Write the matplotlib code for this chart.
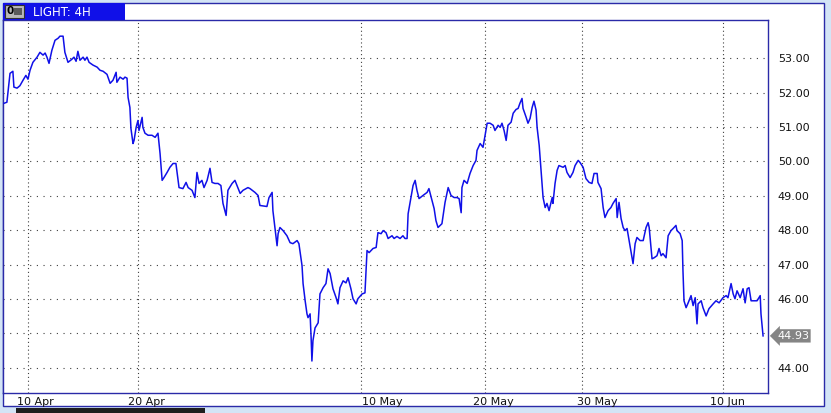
import matplotlib
matplotlib.use("Agg")
import matplotlib.pyplot as plt
import matplotlib.transforms as mtransforms
from matplotlib.patches import Rectangle

# LIGHT 4H closes, x = bar number from the left edge of the chart
seg_early_apr = [(0.4, 51.69), (1.5, 51.72), (2.7, 52.56), (3.8, 52.62), (4.2, 52.16), (5.4, 52.13),
                 (6.5, 52.20), (7.7, 52.36), (8.8, 52.50), (9.6, 52.39), (10.4, 52.65), (11.5, 52.88),
                 (13.1, 53.03), (14.2, 53.17), (15.4, 53.09), (16.2, 53.15), (16.9, 53.03), (17.7, 52.85),
                 (18.8, 53.23), (20.0, 53.52), (21.2, 53.58), (21.9, 53.64), (23.1, 53.64), (23.8, 53.17),
                 (25.0, 52.88), (26.5, 52.97), (27.3, 53.03), (28.1, 52.91), (28.8, 53.20), (29.6, 52.94),
                 (30.8, 53.03), (31.5, 52.94), (32.3, 53.03), (33.1, 52.88), (34.6, 52.80), (36.2, 52.74),
                 (37.3, 52.65), (38.5, 52.62), (40.0, 52.53), (41.2, 52.27), (42.3, 52.36), (43.5, 52.59),
                 (43.8, 52.30), (45.0, 52.45), (46.2, 52.39), (46.9, 52.45), (47.7, 52.42), (48.1, 51.86),
                 (48.8, 51.57), (49.2, 50.96), (50.0, 50.52), (50.4, 50.61), (51.2, 50.99), (51.9, 51.19),
                 (52.3, 50.90), (53.5, 51.28), (53.8, 50.99), (54.6, 50.82), (55.8, 50.76), (57.3, 50.76),
                 (58.5, 50.70), (59.6, 50.82), (60.4, 50.23), (61.2, 49.45), (61.9, 49.53), (63.1, 49.68),
                 (64.2, 49.83), (65.4, 49.94), (66.5, 49.94), (67.7, 49.24), (69.2, 49.21), (70.4, 49.39),
                 (71.2, 49.24), (72.7, 49.16), (73.8, 48.95), (74.6, 49.68), (75.4, 49.36), (76.5, 49.45),
                 (77.3, 49.24), (78.5, 49.45), (79.6, 49.80), (80.4, 49.39), (81.5, 49.36), (82.7, 49.36),
                 (83.8, 49.30), (84.6, 48.78), (85.8, 48.43), (86.5, 49.16), (88.1, 49.36), (89.2, 49.45),
                 (90.0, 49.30), (91.2, 49.07), (92.3, 49.16), (94.2, 49.24)]

seg_late_apr = [(95.0, 49.21), (96.9, 49.10), (98.1, 49.01), (98.8, 48.72), (101.5, 48.69), (102.3, 48.95),
                (103.5, 49.10), (103.8, 48.57), (104.6, 48.05), (105.4, 47.55), (105.8, 47.90), (106.5, 48.08),
                (107.7, 47.99), (109.2, 47.84), (110.4, 47.64), (111.5, 47.61), (113.1, 47.70), (113.8, 47.61),
                (115.0, 46.97), (115.4, 46.45), (116.2, 45.95), (116.9, 45.57), (117.3, 45.46), (118.1, 45.57),
                (118.5, 44.87), (118.8, 44.20), (119.2, 44.79), (120.0, 45.16), (121.2, 45.31), (121.9, 46.15),
                (123.1, 46.33), (124.2, 46.45), (125.0, 46.88), (125.8, 46.74), (126.9, 46.30), (128.1, 46.04),
                (128.8, 45.86), (129.6, 46.33), (130.8, 46.53), (131.9, 46.47), (132.7, 46.62), (133.8, 46.30),
                (134.6, 46.01), (135.8, 45.86), (136.5, 46.01), (138.1, 46.15), (139.2, 46.18), (140.0, 47.41),
                (140.8, 47.35), (142.3, 47.47), (143.5, 47.50), (144.2, 47.93), (145.4, 47.90), (146.2, 47.99),
                (147.3, 47.93), (148.1, 47.76), (149.6, 47.84), (150.4, 47.76), (151.5, 47.82), (152.7, 47.76),
                (153.8, 47.84), (154.6, 47.76)]

seg_may = [(155.4, 47.76), (155.8, 48.48), (156.9, 48.95), (157.7, 49.30), (158.5, 49.45), (159.2, 49.16),
           (160.0, 48.92), (161.5, 49.01), (163.1, 49.10), (163.8, 49.21), (165.0, 48.86), (165.8, 48.63),
           (166.5, 48.28), (167.3, 48.08), (168.8, 48.19), (170.0, 48.81), (171.2, 49.24), (172.3, 49.01),
           (173.5, 48.95), (174.6, 48.95), (175.4, 48.92), (176.2, 48.51), (176.5, 49.24), (177.3, 49.45),
           (178.5, 49.36), (179.6, 49.65), (180.8, 49.88), (181.9, 50.03), (182.3, 50.32), (183.5, 50.52),
           (184.6, 50.41), (185.4, 50.76), (186.2, 51.11), (187.3, 51.11), (188.5, 51.05), (189.2, 50.90),
           (190.4, 51.05), (191.2, 50.99), (191.9, 51.11), (192.7, 50.90), (193.5, 50.61), (194.2, 51.05),
           (195.4, 51.14), (196.2, 51.40), (197.3, 51.51), (198.1, 51.54), (198.8, 51.69), (199.6, 51.83),
           (200.0, 51.54), (201.2, 51.28), (201.9, 51.11), (202.7, 51.25), (203.5, 51.57), (204.2, 51.75),
           (205.0, 51.49), (205.4, 50.99), (206.2, 50.47), (206.9, 49.74), (207.7, 48.95), (208.5, 48.66),
           (209.2, 48.78), (210.0, 48.57), (211.2, 48.95), (211.5, 48.78), (212.3, 49.36), (213.1, 49.74),
           (213.8, 49.88), (215.4, 49.83), (216.2, 49.88), (216.9, 49.68), (218.1, 49.53), (219.2, 49.68),
           (220.0, 49.88), (221.2, 50.03)]

seg_june = [(221.9, 49.97), (223.1, 49.83), (224.2, 49.50), (225.4, 49.39), (226.5, 49.36), (227.3, 49.65),
            (228.5, 49.65), (228.8, 49.39), (230.0, 49.21), (230.8, 48.66), (231.5, 48.37), (232.7, 48.57),
            (233.8, 48.66), (234.6, 48.78), (235.8, 48.92), (236.2, 48.37), (236.9, 48.81), (237.7, 48.34),
            (238.5, 48.08), (239.2, 47.99), (240.0, 48.05), (240.8, 47.70), (241.9, 47.20), (242.3, 47.03),
            (243.1, 47.61), (243.8, 47.79), (245.0, 47.70), (246.2, 47.70), (247.3, 48.08), (248.1, 48.22),
            (248.5, 48.08), (249.6, 47.17), (250.4, 47.20), (251.5, 47.26), (252.3, 47.47), (253.1, 47.26),
            (253.8, 47.32), (255.0, 47.20), (255.8, 47.84), (256.9, 47.99), (257.7, 48.05), (258.8, 48.14),
            (259.2, 47.99), (260.4, 47.90), (261.2, 47.70), (261.5, 46.82), (261.9, 45.95), (262.7, 45.75),
            (263.5, 45.89), (264.6, 46.10), (265.4, 45.81), (266.2, 46.04), (266.9, 45.28), (267.3, 45.86),
            (268.5, 45.95), (269.2, 45.75), (270.4, 45.51), (271.5, 45.72), (273.1, 45.86), (274.2, 45.95),
            (275.4, 45.89), (276.9, 46.04), (278.1, 46.10), (278.8, 46.04), (280.0, 46.45), (280.8, 46.15),
            (281.5, 46.01), (282.3, 46.24), (283.5, 46.04), (284.6, 46.30), (285.4, 45.89), (286.2, 46.30),
            (286.9, 46.33), (287.7, 45.95), (288.8, 45.95), (290.0, 45.95), (291.2, 46.10), (291.5, 45.57),
            (292.3, 44.93)]

date_grid_bars = [9.6, 51.9, 137.7, 185.4, 222.7, 276.9]
date_label_bars = [5.4, 48.1, 138.1, 180.8, 220.8, 271.9]
date_labels = ["10 Apr", "20 Apr", "10 May", "20 May", "30 May", "10 Jun"]
price_grid = [44, 45, 46, 47, 48, 49, 50, 51, 52, 53]
price_labels = [44, 46, 47, 48, 49, 50, 51, 52, 53]   # 45.00 sits under the last-price tag
title = "LIGHT: 4H"

W, H = 831, 413
BLUE = "#1010e8"
FRAME = "#2a2aa8"
GRID = "#404040"
FONT = "DejaVu Sans"

fig = plt.figure(figsize=(W / 100, H / 100), dpi=100)
fig.patch.set_facecolor("#d3e4f6")

# white chart window with dark blue frame
fig.add_artist(Rectangle((3 / W, 1 - 406 / H), 821 / W, 403 / H, transform=fig.transFigure,
                         facecolor="white", edgecolor=FRAME, lw=1.0, zorder=0))
# scrollbar thumb under the chart
fig.add_artist(Rectangle((16 / W, 0), 189 / W, 5 / H, transform=fig.transFigure,
                         facecolor="#1e1e1e", edgecolor="none", zorder=1))

ax = fig.add_axes([3 / W, 1 - 393 / H, 765 / W, 373 / H])
ax.set_facecolor("white")

series = seg_early_apr + seg_late_apr + seg_may + seg_june
xs = [b for b, _ in series]
ys = [c for _, c in series]
ax.plot(xs, ys, color=BLUE, lw=1.1, zorder=3)

ax.set_xlim(0, 294.2)
ax.set_ylim(43.27, 54.11)

# dotted grid
for p in price_grid:
    ax.axhline(p, color=GRID, lw=0.8, linestyle=(0, (1, 5)), zorder=1)
for b in date_grid_bars:
    ax.axvline(b, color=GRID, lw=0.8, linestyle=(0, (1, 2.5)), zorder=1)

for sp in ax.spines.values():
    sp.set_color(FRAME)
    sp.set_linewidth(1.0)

ax.set_xticks([])
ax.yaxis.tick_right()
ax.set_yticks(price_labels)
ax.set_yticklabels([f"{p:.2f}" for p in price_labels])
ax.tick_params(axis="y", length=0, pad=7, labelsize=8, labelcolor="#111111")
for lab in ax.get_yticklabels():
    lab.set_fontfamily(FONT)

# date labels under the axis
trans_x = mtransforms.blended_transform_factory(ax.transData, ax.transAxes)
for b, lab in zip(date_label_bars, date_labels):
    ax.text(b, -0.024, lab, transform=trans_x, ha="left", va="center",
            fontsize=8, family=FONT, color="#111111")

# last price tag
last = ys[-1]
trans_y = mtransforms.blended_transform_factory(ax.transAxes, ax.transData)
ax.text(1.0, last, f"{last:.2f}", transform=mtransforms.offset_copy(trans_y, fig, x=9, y=0, units="dots"),
        ha="left", va="center", fontsize=8, family=FONT, color="white", clip_on=False,
        bbox=dict(boxstyle="larrow,pad=0.15", fc="#858585", ec="none"))

# title bar
fig.add_artist(Rectangle((3 / W, 1 - 20 / H), 122 / W, 17 / H, transform=fig.transFigure,
                         facecolor=BLUE, edgecolor="none", zorder=5))
fig.add_artist(Rectangle((5 / W, 1 - 18 / H), 19 / W, 13 / H, transform=fig.transFigure,
                         facecolor="#b8b8b8", edgecolor="#303030", lw=0.8, zorder=6))
fig.add_artist(Rectangle((14 / W, 1 - 15 / H), 8 / W, 7 / H, transform=fig.transFigure,
                         facecolor="#5a5a5a", edgecolor="none", zorder=7))
fig.text(10.5 / W, 1 - 11.5 / H, "0", ha="center", va="center", fontsize=7.5, fontweight="bold",
         family=FONT, color="black", zorder=8)
fig.text(33 / W, 1 - 12 / H, title, ha="left", va="center", fontsize=8.5,
         family=FONT, color="white", zorder=8)

fig.savefig("out.png", dpi=100, facecolor=fig.get_facecolor())
